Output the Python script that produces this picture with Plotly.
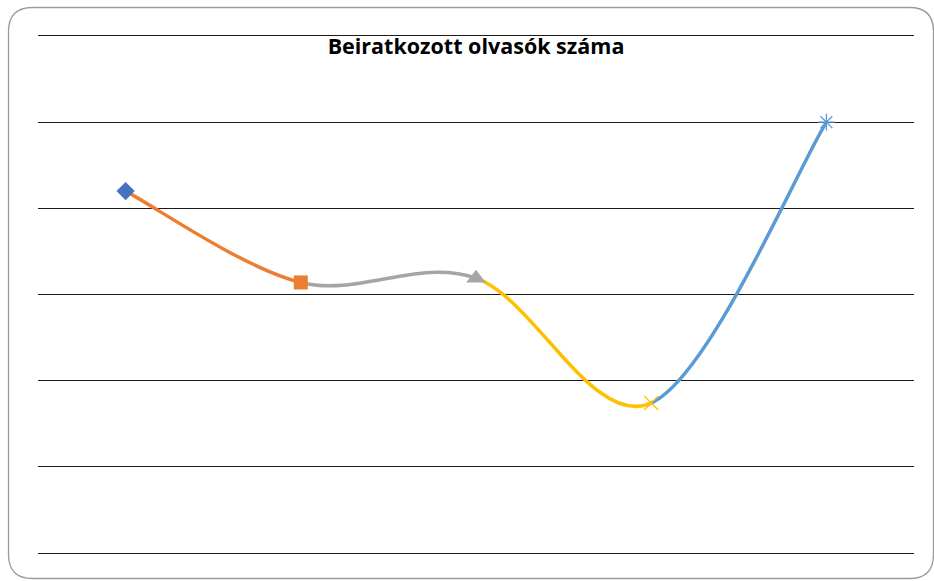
import plotly.graph_objects as go

# Data
categories = ["1", "2", "3", "4", "5"]
values = [420, 314, 319, 174, 500]
point_colors = ["#4472C4", "#ED7D31", "#A5A5A5", "#FFC000", "#5B9BD5"]
point_symbols = ["diamond", "square", "triangle-up", "x-thin-open", "asterisk-open"]
y_ticks = [0, 100, 200, 300, 400, 500, 600]
title_text = "Beiratkozott olvasók száma"

W, H = 934, 581
L, R, T, B = 38, 20, 36, 28

xs = list(range(len(values)))

# Excel-like smoothed segments (Catmull-Rom -> cubic Bezier), each segment coloured by its end point
shapes = []
n = len(values)
for i in range(n - 1):
    p0 = (xs[max(i - 1, 0)], values[max(i - 1, 0)])
    p1 = (xs[i], values[i])
    p2 = (xs[i + 1], values[i + 1])
    p3 = (xs[min(i + 2, n - 1)], values[min(i + 2, n - 1)])
    c1 = (p1[0] + (p2[0] - p0[0]) / 6, p1[1] + (p2[1] - p0[1]) / 6)
    c2 = (p2[0] - (p3[0] - p1[0]) / 6, p2[1] - (p3[1] - p1[1]) / 6)
    path = f"M {p1[0]},{p1[1]} C {c1[0]},{c1[1]} {c2[0]},{c2[1]} {p2[0]},{p2[1]}"
    shapes.append(dict(type="path", xref="x", yref="y", path=path,
                       line=dict(color=point_colors[i + 1], width=3.5),
                       layer="between"))

# Rounded outer border (paper coords)
pw, ph = W - L - R, H - T - B
def px(x):
    return (x - L) / pw
def py(y):
    return (H - B - y) / ph
x0, x1, y0, y1, r = 8.5, 933.5, 7.5, 578.5, 24
border = (f"M {px(x0 + r)},{py(y0)} L {px(x1 - r)},{py(y0)} Q {px(x1)},{py(y0)} {px(x1)},{py(y0 + r)} "
          f"L {px(x1)},{py(y1 - r)} Q {px(x1)},{py(y1)} {px(x1 - r)},{py(y1)} "
          f"L {px(x0 + r)},{py(y1)} Q {px(x0)},{py(y1)} {px(x0)},{py(y1 - r)} "
          f"L {px(x0)},{py(y0 + r)} Q {px(x0)},{py(y0)} {px(x0 + r)},{py(y0)} Z")
shapes.append(dict(type="path", xref="paper", yref="paper", path=border,
                   line=dict(color="#9a9a9a", width=1.3), layer="below"))

fig = go.Figure()
fig.add_trace(go.Scatter(
    x=xs, y=values, mode="markers", hoverinfo="skip", showlegend=False,
    marker=dict(symbol=point_symbols, color=point_colors, size=[14, 14, 17, 14, 14], opacity=1,
                line=dict(color=point_colors, width=[0, 0, 0, 1.3, 1.3])),
))

fig.update_layout(
    width=W, height=H,
    margin=dict(l=L, r=R, t=T, b=B),
    paper_bgcolor="white", plot_bgcolor="white",
    shapes=shapes,
    title=dict(text=f"<b>{title_text}</b>", x=476 / W, xanchor="center",
               y=1 - 46 / H, yanchor="middle", xref="container", yref="container",
               font=dict(family="Open Sans, Liberation Sans, sans-serif", size=21.5, color="black")),
    xaxis=dict(range=[-0.5, n - 0.5], showgrid=False, zeroline=False, showticklabels=False,
               ticks="", showline=True, mirror=True, linecolor="#1a1a1a", linewidth=1.4,
               fixedrange=True),
    yaxis=dict(range=[y_ticks[0], y_ticks[-1]], tickvals=y_ticks, showgrid=True,
               gridcolor="#1a1a1a", gridwidth=1.4, zeroline=False,
               showticklabels=False, ticks="", showline=False, fixedrange=True),
)

fig.write_html("out.html", config={"displayModeBar": False},
               post_script="document.body.style.margin='0';document.body.style.overflow='hidden';")
